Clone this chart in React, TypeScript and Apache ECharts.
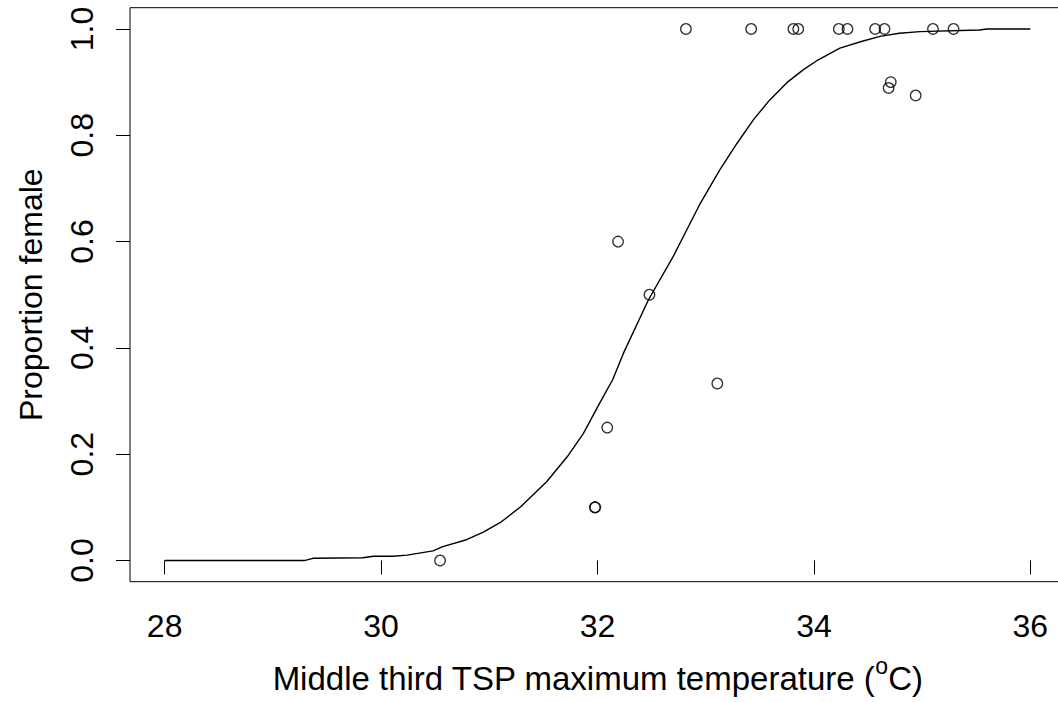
import React, { useEffect, useRef } from "react";
import * as echarts from "echarts";

// Observed data points: temperature (°C) and proportion female
const pointTemps = [
  30.545, 31.975, 31.98, 32.09, 32.19, 32.48, 33.107, 32.817, 33.42, 33.81, 33.855,
  34.23, 34.31, 34.566, 34.652, 35.1, 35.29, 34.71, 34.69, 34.94,
];
const pointProps = [
  0, 0.1, 0.1, 0.25, 0.6, 0.5, 0.333, 1, 1, 1, 1,
  1, 1, 1, 1, 1, 1, 0.9, 0.889, 0.875,
];

// Fitted curve
const curveTemps = [
  28.0, 29.3, 29.37, 29.83, 29.93, 30.11, 30.24, 30.48, 30.57, 30.79, 30.94, 31.1,
  31.29, 31.53, 31.72, 31.87, 32.02, 32.14, 32.24, 32.47, 32.7, 32.95, 33.13, 33.29,
  33.44, 33.59, 33.75, 33.9, 34.04, 34.24, 34.43, 34.61, 34.79, 34.98, 35.53, 35.6, 36.0,
];
const curveProps = [
  0.0, 0.0, 0.004, 0.005, 0.008, 0.008, 0.01, 0.018, 0.026, 0.039, 0.053, 0.071,
  0.101, 0.148, 0.195, 0.239, 0.296, 0.34, 0.39, 0.49, 0.572, 0.672, 0.735, 0.785,
  0.829, 0.866, 0.899, 0.923, 0.942, 0.964, 0.976, 0.986, 0.992, 0.995, 0.998, 1.0, 1.0,
];

const xTicks = [28, 30, 32, 34, 36];
const yTicks = [0, 0.2, 0.4, 0.6, 0.8, 1.0];

const FONT = '"Liberation Sans", Arial, Helvetica, sans-serif';

export default function App() {
  const ref = useRef<HTMLDivElement>(null);
  useEffect(() => {
    if (!ref.current) return;
    const chart = echarts.init(ref.current, null, { renderer: "svg" });
    const points = pointTemps.map((t, i) => [t, pointProps[i]]);
    const curve = curveTemps.map((t, i) => [t, curveProps[i]]);
    chart.setOption({
      animation: false,
      backgroundColor: "#ffffff",
      textStyle: { fontFamily: FONT, color: "#000" },
      grid: {
        show: true,
        left: 130,
        top: 7.7,
        width: 935,
        height: 574,
        borderColor: "#000",
        borderWidth: 1,
        containLabel: false,
        outerBoundsMode: "none",
      },
      xAxis: {
        type: "value",
        min: 27.68,
        max: 36.32,
        splitLine: { show: false },
        axisLine: { show: false },
        axisTick: {
          show: true,
          customValues: xTicks,
          length: 14,
          lineStyle: { color: "#000", width: 1 },
        },
        axisLabel: {
          customValues: xTicks,
          formatter: (v: number) => String(v),
          color: "#000",
          fontSize: 32,
          fontFamily: FONT,
          margin: 28,
        },
        name: "{n|Middle third TSP maximum temperature (}{sup|o}{n|C)}",
        nameLocation: "middle",
        nameGap: 73,
        nameTextStyle: {
          color: "#000",
          fontFamily: FONT,
          rich: {
            n: { fontSize: 33, fontFamily: FONT, color: "#000", verticalAlign: "bottom", lineHeight: 40 },
            sup: { fontSize: 23, fontFamily: FONT, color: "#000", verticalAlign: "top", lineHeight: 40 },
          },
        },
      },
      yAxis: {
        type: "value",
        min: -0.04,
        max: 1.04,
        splitLine: { show: false },
        axisLine: { show: false },
        axisTick: {
          show: true,
          customValues: yTicks,
          length: 14,
          lineStyle: { color: "#000", width: 1 },
        },
        axisLabel: {
          customValues: yTicks,
          formatter: (v: number) => v.toFixed(1),
          rotate: 90,
          color: "#000",
          fontSize: 32,
          fontFamily: FONT,
          margin: 32,
        },
        name: "Proportion female",
        nameLocation: "middle",
        nameGap: 83,
        nameTextStyle: { color: "#000", fontSize: 32, fontFamily: FONT },
      },
      series: [
        {
          type: "line",
          data: curve,
          showSymbol: false,
          smooth: false,
          lineStyle: { color: "#000", width: 1.4 },
          silent: true,
        },
        {
          type: "scatter",
          data: points,
          symbol: "circle",
          symbolSize: 10.5,
          itemStyle: { color: "rgba(0,0,0,0)", borderColor: "#000", borderWidth: 1.3 },
        },
      ],
    });
    return () => chart.dispose();
  }, []);
  return (
    <div
      ref={ref}
      style={{ position: "fixed", left: 0, top: 0, width: 1058, height: 702, background: "#fff" }}
    />
  );
}
